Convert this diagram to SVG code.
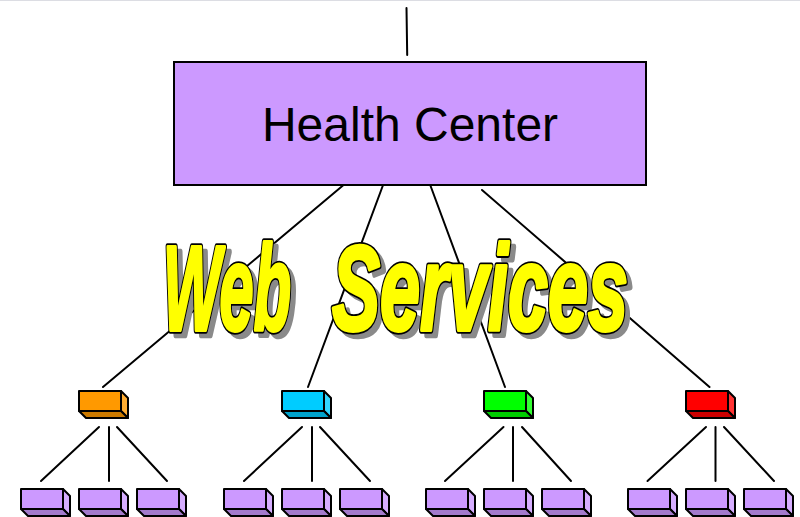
<svg xmlns="http://www.w3.org/2000/svg" width="800" height="517" viewBox="0 0 800 517">
<style>
.ln{stroke:#000;stroke-width:2;fill:none;stroke-linecap:round}
.bx rect,.bx polygon{stroke:#000;stroke-width:2;stroke-linejoin:round}
.p .f{fill:#cc99ff}.p .s{fill:#d6adff}.p .b{fill:#a37acc}
.o .f{fill:#ff9900}.o .s{fill:#ffad33}.o .b{fill:#cc7a00}
.c .f{fill:#00ccff}.c .s{fill:#33d6ff}.c .b{fill:#00a3cc}
.g .f{fill:#00ff00}.g .s{fill:#33ff33}.g .b{fill:#00cc00}
.r .f{fill:#ff0000}.r .s{fill:#ff3333}.r .b{fill:#cc0000}
.ws{font-family:"Liberation Sans",Arial,sans-serif;font-weight:bold;font-style:italic;font-size:121px}
.sh{fill:#8a8a8a;stroke:#8a8a8a;stroke-width:6.5;stroke-linejoin:round}
.ol{fill:#000;stroke:#000;stroke-width:7.5;stroke-linejoin:round}
.fg{fill:#ffff00;stroke:#ffff00;stroke-width:3.8;stroke-linejoin:round}
</style>
<rect x="0" y="0" width="800" height="1" fill="#dcdde3"/>
<g id="connectors">
<line class="ln" x1="406.5" y1="8" x2="407.2" y2="55"/>
<line class="ln" x1="346.5" y1="182.5" x2="103" y2="387"/>
<line class="ln" x1="384" y1="182.5" x2="308" y2="387"/>
<line class="ln" x1="429.3" y1="182.5" x2="505" y2="387"/>
<line class="ln" x1="482" y1="190" x2="709.5" y2="387"/>
<line class="ln" x1="99" y1="427" x2="41" y2="481"/>
<line class="ln" x1="109" y1="427" x2="109" y2="481"/>
<line class="ln" x1="117" y1="427" x2="167" y2="481"/>
<line class="ln" x1="302" y1="427" x2="244" y2="481"/>
<line class="ln" x1="312" y1="427" x2="312" y2="481"/>
<line class="ln" x1="320" y1="427" x2="370" y2="481"/>
<line class="ln" x1="503.5" y1="427" x2="445" y2="481"/>
<line class="ln" x1="513" y1="427" x2="513" y2="481"/>
<line class="ln" x1="522" y1="427" x2="571" y2="481"/>
<line class="ln" x1="706" y1="427" x2="647.5" y2="481"/>
<line class="ln" x1="715.5" y1="427" x2="715.5" y2="481"/>
<line class="ln" x1="724" y1="427" x2="774" y2="481"/>
</g>
<g id="health-center">
<rect x="174" y="62" width="472" height="123" fill="#cc99ff" stroke="#000" stroke-width="2"/>
<text x="410" y="141" text-anchor="middle" font-family="'Liberation Sans',Arial,sans-serif" font-size="48" fill="#000">Health Center</text>
</g>
<g id="hub-orange" class="bx o" transform="translate(79,391)"><rect class="f" width="42" height="20"/><polygon class="s" points="42,0 49,7 49,27 42,20"/><polygon class="b" points="0,20 42,20 49,27 7,27"/></g>
<g id="hub-cyan" class="bx c" transform="translate(282,391)"><rect class="f" width="42" height="20"/><polygon class="s" points="42,0 49,7 49,27 42,20"/><polygon class="b" points="0,20 42,20 49,27 7,27"/></g>
<g id="hub-green" class="bx g" transform="translate(484,391)"><rect class="f" width="42" height="20"/><polygon class="s" points="42,0 49,7 49,27 42,20"/><polygon class="b" points="0,20 42,20 49,27 7,27"/></g>
<g id="hub-red" class="bx r" transform="translate(686,391)"><rect class="f" width="42" height="20"/><polygon class="s" points="42,0 49,7 49,27 42,20"/><polygon class="b" points="0,20 42,20 49,27 7,27"/></g>
<g id="leaf-1" class="bx p" transform="translate(21,489)"><rect class="f" width="42" height="20"/><polygon class="s" points="42,0 49,7 49,27 42,20"/><polygon class="b" points="0,20 42,20 49,27 7,27"/></g>
<g id="leaf-2" class="bx p" transform="translate(79,489)"><rect class="f" width="42" height="20"/><polygon class="s" points="42,0 49,7 49,27 42,20"/><polygon class="b" points="0,20 42,20 49,27 7,27"/></g>
<g id="leaf-3" class="bx p" transform="translate(137,489)"><rect class="f" width="42" height="20"/><polygon class="s" points="42,0 49,7 49,27 42,20"/><polygon class="b" points="0,20 42,20 49,27 7,27"/></g>
<g id="leaf-4" class="bx p" transform="translate(224,489)"><rect class="f" width="42" height="20"/><polygon class="s" points="42,0 49,7 49,27 42,20"/><polygon class="b" points="0,20 42,20 49,27 7,27"/></g>
<g id="leaf-5" class="bx p" transform="translate(282,489)"><rect class="f" width="42" height="20"/><polygon class="s" points="42,0 49,7 49,27 42,20"/><polygon class="b" points="0,20 42,20 49,27 7,27"/></g>
<g id="leaf-6" class="bx p" transform="translate(340,489)"><rect class="f" width="42" height="20"/><polygon class="s" points="42,0 49,7 49,27 42,20"/><polygon class="b" points="0,20 42,20 49,27 7,27"/></g>
<g id="leaf-7" class="bx p" transform="translate(426,489)"><rect class="f" width="42" height="20"/><polygon class="s" points="42,0 49,7 49,27 42,20"/><polygon class="b" points="0,20 42,20 49,27 7,27"/></g>
<g id="leaf-8" class="bx p" transform="translate(484,489)"><rect class="f" width="42" height="20"/><polygon class="s" points="42,0 49,7 49,27 42,20"/><polygon class="b" points="0,20 42,20 49,27 7,27"/></g>
<g id="leaf-9" class="bx p" transform="translate(542,489)"><rect class="f" width="42" height="20"/><polygon class="s" points="42,0 49,7 49,27 42,20"/><polygon class="b" points="0,20 42,20 49,27 7,27"/></g>
<g id="leaf-10" class="bx p" transform="translate(628,489)"><rect class="f" width="42" height="20"/><polygon class="s" points="42,0 49,7 49,27 42,20"/><polygon class="b" points="0,20 42,20 49,27 7,27"/></g>
<g id="leaf-11" class="bx p" transform="translate(686,489)"><rect class="f" width="42" height="20"/><polygon class="s" points="42,0 49,7 49,27 42,20"/><polygon class="b" points="0,20 42,20 49,27 7,27"/></g>
<g id="leaf-12" class="bx p" transform="translate(744,489)"><rect class="f" width="42" height="20"/><polygon class="s" points="42,0 49,7 49,27 42,20"/><polygon class="b" points="0,20 42,20 49,27 7,27"/></g>
<g id="web-services" class="ws">
<text class="sh" x="168" y="335" textLength="128" lengthAdjust="spacingAndGlyphs">Web</text>
<text class="sh" x="337" y="335" textLength="296" lengthAdjust="spacingAndGlyphs">Services</text>
<text class="ol" x="163" y="330" textLength="128" lengthAdjust="spacingAndGlyphs">Web</text>
<text class="ol" x="332" y="330" textLength="296" lengthAdjust="spacingAndGlyphs">Services</text>
<text class="fg" x="163" y="330" textLength="128" lengthAdjust="spacingAndGlyphs">Web</text>
<text class="fg" x="332" y="330" textLength="296" lengthAdjust="spacingAndGlyphs">Services</text>
</g>
</svg>
